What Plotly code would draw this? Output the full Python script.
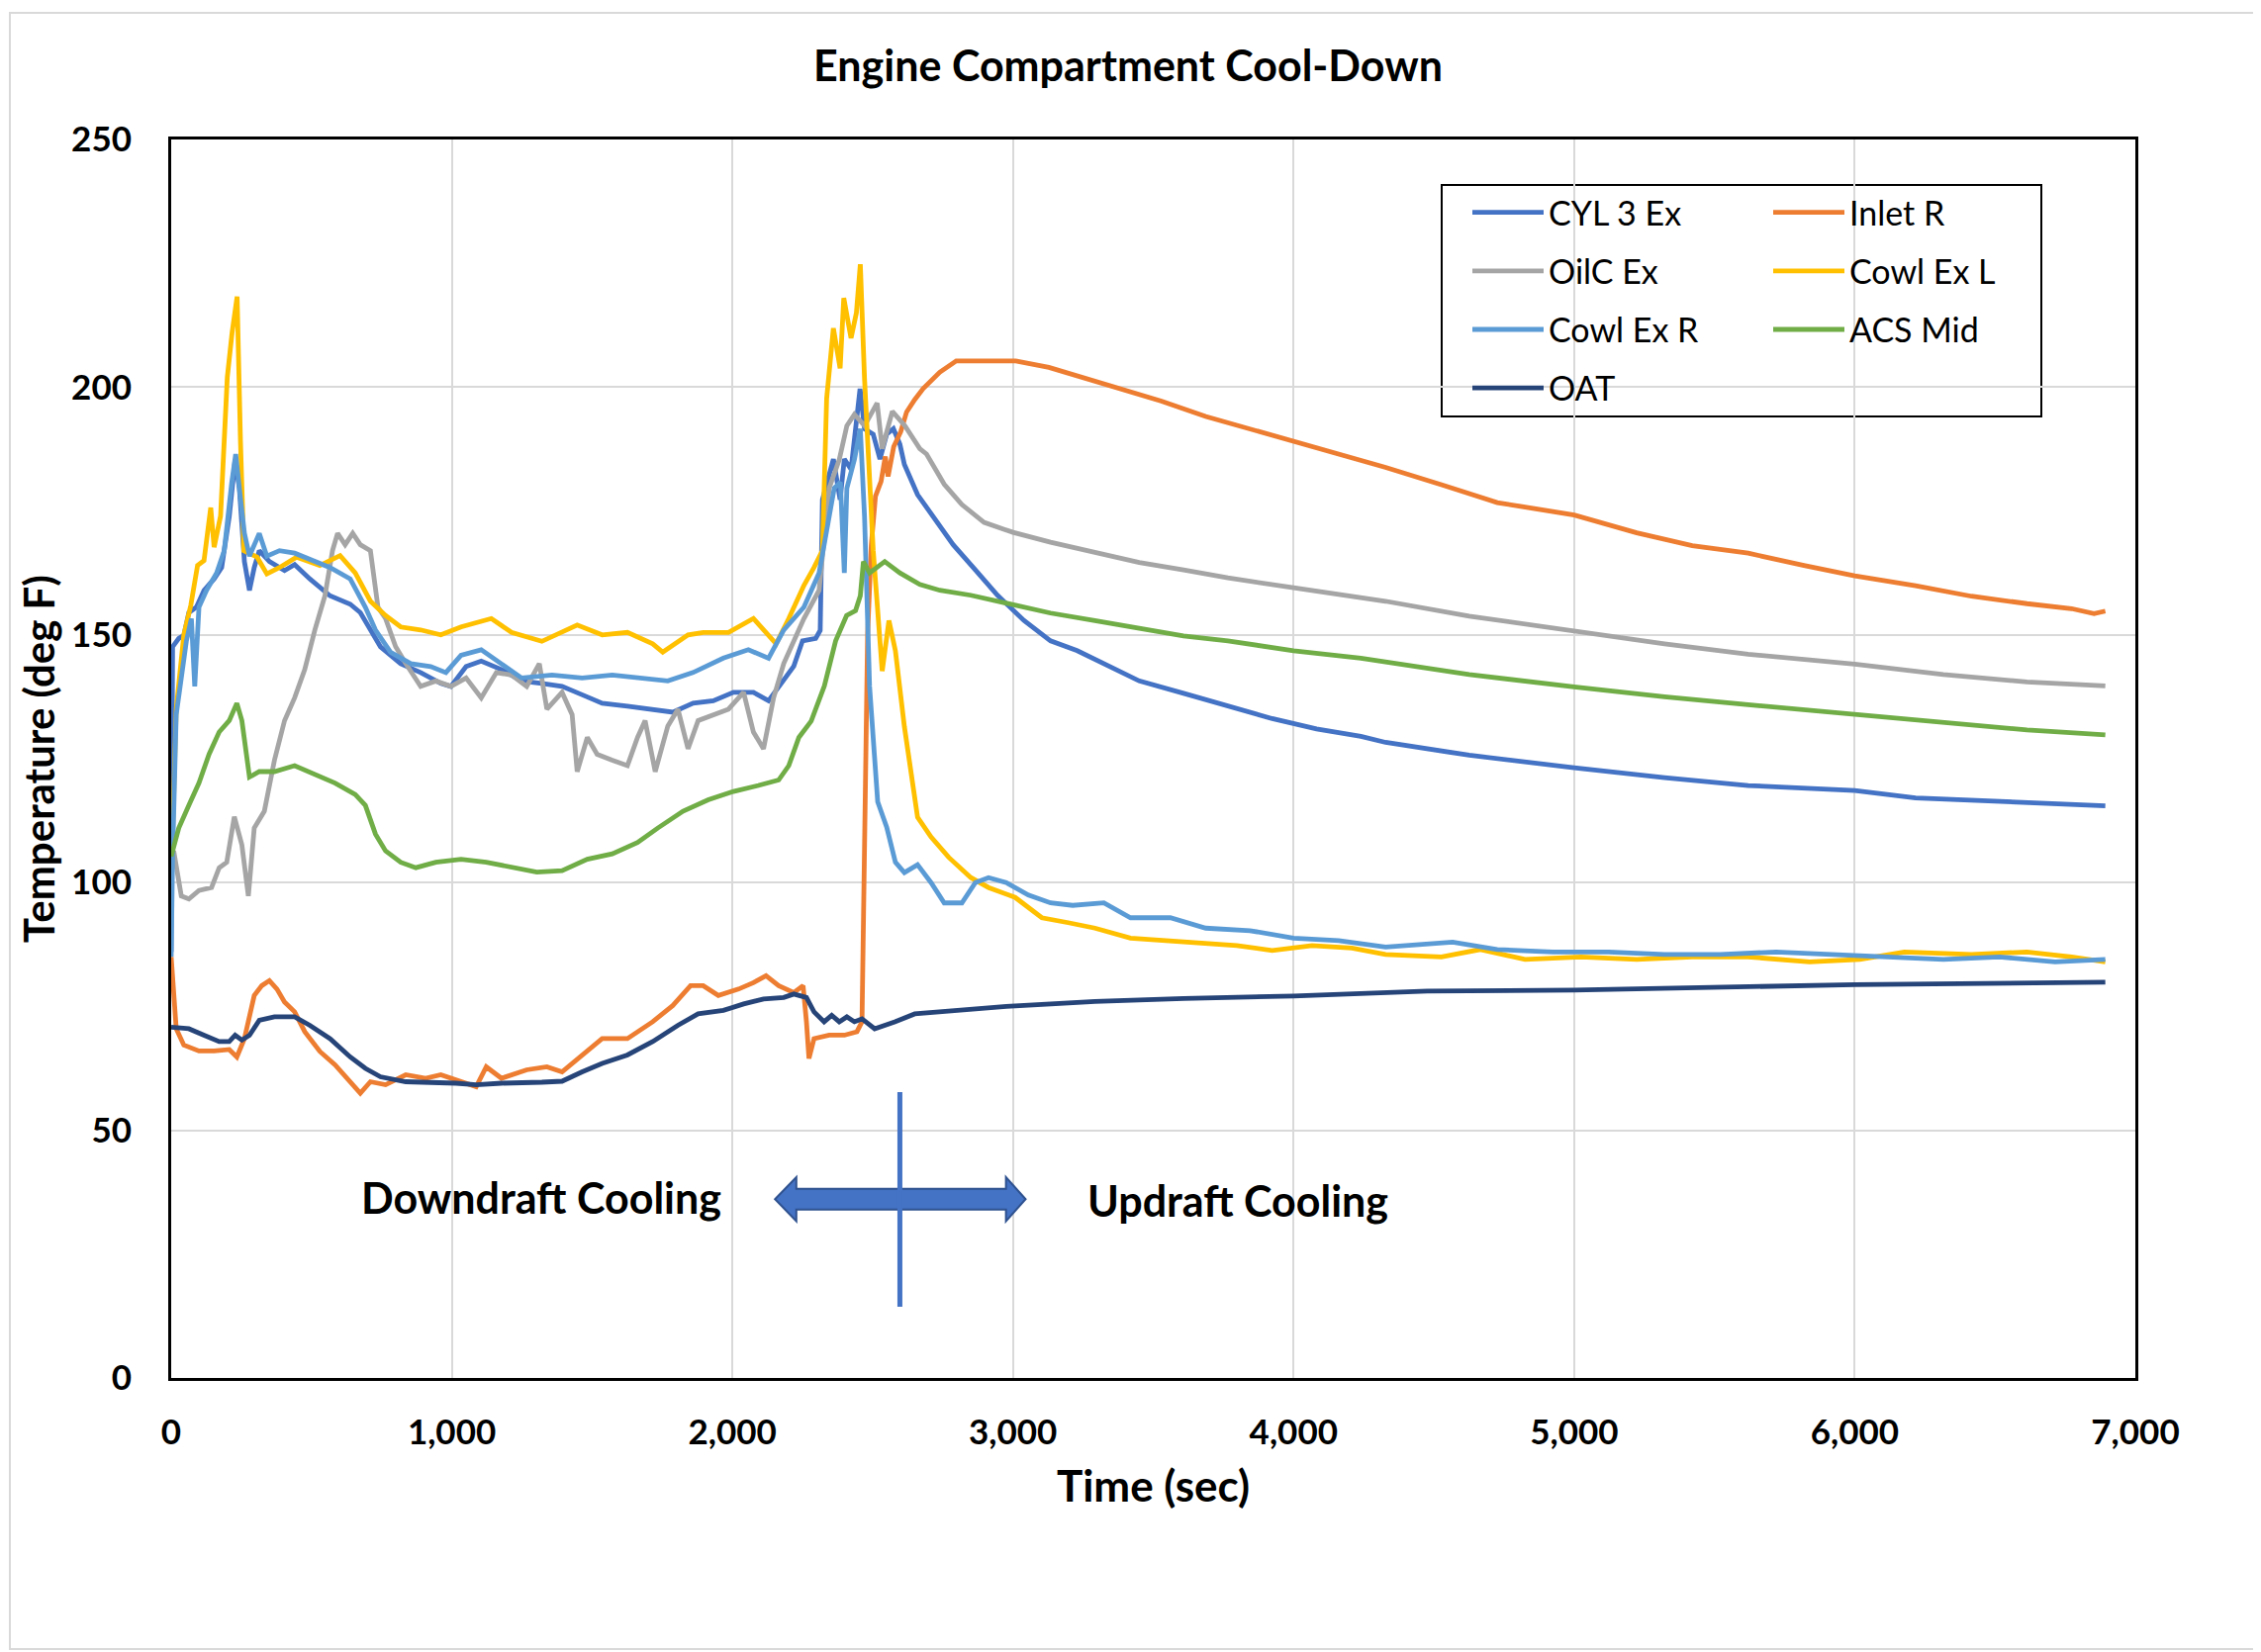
import plotly.graph_objects as go

# ---------------- data ----------------
cyl3_t = [0, 5, 27, 45, 63, 90, 117, 153, 180, 207, 228, 243, 261, 279, 296, 314, 350, 404, 440, 494, 566, 638, 674, 710, 746, 818, 889, 961, 997, 1051, 1105, 1177, 1249, 1321, 1393, 1465, 1536, 1626, 1716, 1788, 1860, 1932, 2004, 2075, 2129, 2165, 2219, 2250, 2297, 2313, 2321, 2360, 2384, 2399, 2423, 2455, 2471, 2502, 2526, 2550, 2574, 2597, 2613, 2660, 2724, 2787, 2866, 2945, 3039, 3134, 3229, 3340, 3450, 3608, 3766, 3924, 4082, 4240, 4328, 4626, 5000, 5322, 5620, 6000, 6217, 6416, 6614, 6893]
cyl3_v = [86, 147.6, 149.3, 149.9, 154.5, 155.6, 159, 161.3, 163.6, 173.9, 185.4, 179.6, 164.8, 159, 163.6, 167, 164.8, 163, 164.2, 161.3, 157.9, 156.2, 154.5, 151, 147.6, 144.2, 142.4, 140.2, 139.6, 143.6, 144.7, 143, 140.7, 140.2, 139.6, 137.9, 136.2, 135.6, 135, 134.4, 136.2, 136.7, 138.4, 138.4, 136.7, 139.6, 143.7, 148.8, 149.3, 150.9, 177.3, 185.5, 177.3, 185.5, 183.4, 199.7, 191.6, 190.5, 185.5, 190.5, 191.6, 188.5, 184.4, 178.3, 173.2, 168.2, 163.1, 158, 152.9, 148.8, 146.8, 143.7, 140.7, 138.2, 135.6, 133.1, 131, 129.5, 128.3, 125.7, 123.2, 121.2, 119.6, 118.6, 117.1, 116.6, 116.1, 115.5]

inlet_t = [0, 18, 45, 99, 153, 207, 234, 261, 296, 323, 350, 377, 404, 440, 476, 530, 584, 629, 674, 710, 764, 836, 907, 961, 1033, 1087, 1123, 1177, 1267, 1339, 1393, 1465, 1536, 1626, 1716, 1788, 1851, 1896, 1950, 2022, 2075, 2120, 2165, 2219, 2252, 2264, 2273, 2291, 2345, 2399, 2444, 2462, 2472, 2482, 2495, 2510, 2530, 2545, 2555, 2575, 2600, 2621, 2650, 2680, 2739, 2798, 2916, 3010, 3128, 3261, 3387, 3529, 3687, 3845, 4000, 4161, 4328, 4527, 4726, 5000, 5223, 5421, 5620, 5819, 6000, 6217, 6416, 6614, 6773, 6853, 6893]
inlet_v = [85, 70.5, 67.2, 66, 66, 66.3, 64.8, 68.5, 77.2, 79.2, 80.2, 78.5, 75.9, 73.9, 69.9, 65.9, 63.2, 60.5, 57.5, 59.8, 59.2, 61.2, 60.5, 61.2, 59.8, 58.8, 62.8, 60.5, 62.2, 62.8, 61.8, 65.2, 68.5, 68.5, 71.9, 75.2, 79.2, 79.2, 77.2, 78.5, 79.8, 81.2, 79.2, 77.8, 79.2, 71.9, 64.5, 68.5, 69.2, 69.2, 69.9, 71.9, 120, 150, 168, 178, 181, 186, 182, 188, 191, 195, 197.5, 199.7, 203, 205.3, 205.3, 205.3, 204, 201.7, 199.7, 197.2, 194.1, 191.6, 189, 186.5, 183.8, 180.3, 176.7, 174.2, 170.6, 168, 166.5, 164, 161.9, 159.9, 157.8, 156.3, 155.3, 154.3, 154.8]

oilc_t = [0, 9, 36, 63, 99, 144, 171, 198, 225, 252, 275, 296, 332, 368, 404, 440, 476, 512, 548, 575, 593, 620, 647, 674, 710, 737, 764, 800, 836, 889, 943, 997, 1051, 1105, 1159, 1213, 1267, 1312, 1339, 1393, 1429, 1447, 1483, 1518, 1572, 1626, 1662, 1689, 1725, 1770, 1806, 1842, 1878, 1932, 1986, 2040, 2075, 2111, 2147, 2183, 2219, 2255, 2309, 2345, 2381, 2408, 2435, 2471, 2516, 2534, 2570, 2615, 2668, 2692, 2755, 2818, 2897, 3000, 3134, 3292, 3450, 3608, 3766, 4000, 4240, 4328, 4626, 5000, 5322, 5620, 6000, 6316, 6614, 6893]
oilc_v = [105, 106.4, 97.3, 96.7, 98.4, 99, 103, 104.1, 113.3, 107.6, 97.3, 111, 114.4, 124.7, 132.7, 137.3, 143, 151, 157.9, 167, 170.5, 168.2, 170.5, 168.2, 167, 155.6, 153.3, 147.6, 144.2, 139.6, 140.7, 139.6, 141.3, 137.3, 142.4, 141.9, 139.6, 144.2, 135, 138.4, 133.9, 122.4, 129.3, 125.9, 124.7, 123.6, 129.3, 132.7, 122.4, 131.6, 135, 127, 132.7, 133.9, 135, 138.4, 130.4, 127, 137.3, 144.2, 148.7, 153.3, 159, 179.6, 185.4, 192.2, 194.5, 192.2, 196.8, 187.6, 195.1, 192.2, 187.6, 186.5, 180.4, 176.3, 172.7, 170.7, 168.7, 166.6, 164.6, 163.1, 161.5, 159.5, 157.5, 156.8, 153.8, 150.7, 148.2, 146.1, 144.1, 142, 140.5, 139.7]

cowl_l_t = [0, 18, 45, 70, 94, 117, 141, 153, 176, 200, 217, 235, 247, 259, 306, 341, 386, 447, 530, 602, 656, 710, 764, 818, 889, 961, 1033, 1141, 1213, 1321, 1447, 1536, 1626, 1716, 1752, 1842, 1896, 1986, 2075, 2111, 2156, 2201, 2255, 2291, 2321, 2336, 2360, 2384, 2397, 2423, 2442, 2456, 2471, 2502, 2534, 2558, 2581, 2613, 2660, 2708, 2771, 2850, 2913, 3008, 3103, 3197, 3292, 3419, 3545, 3671, 3798, 3924, 4066, 4208, 4328, 4527, 4666, 4825, 5024, 5223, 5421, 5620, 5839, 6018, 6177, 6416, 6614, 6773, 6893]
cowl_l_v = [100, 135, 150, 156, 164, 165, 175.7, 167.7, 174, 202, 211, 218.3, 189, 167, 165.7, 162.3, 163.6, 165.7, 164, 166, 162.5, 156.8, 153.9, 151.6, 151, 150, 151.6, 153.3, 150.5, 148.7, 152, 150, 150.5, 148.2, 146.5, 150, 150.5, 150.5, 153.3, 151, 148.2, 153.3, 160, 163.6, 167, 197.7, 211.9, 203.8, 218, 209.9, 215, 224.8, 201.7, 167, 142.7, 152.9, 146.8, 131.5, 113.2, 109.2, 105.1, 101, 99, 97, 92.9, 91.9, 90.8, 88.8, 88.3, 87.8, 87.3, 86.3, 87.3, 86.8, 85.5, 85, 86.5, 84.5, 85, 84.5, 85, 85, 84, 84.5, 86, 85.5, 86, 85, 84]

cowl_r_t = [0, 5, 18, 36, 54, 72, 84, 99, 126, 162, 189, 216, 230, 243, 261, 279, 296, 314, 341, 386, 440, 494, 566, 638, 692, 728, 782, 854, 925, 979, 1033, 1105, 1177, 1249, 1357, 1465, 1572, 1680, 1770, 1860, 1968, 2057, 2129, 2183, 2255, 2309, 2336, 2363, 2385, 2399, 2408, 2435, 2456, 2471, 2489, 2518, 2550, 2581, 2613, 2660, 2708, 2755, 2818, 2866, 2913, 2976, 3055, 3134, 3213, 3324, 3419, 3561, 3687, 3845, 4000, 4161, 4328, 4567, 4726, 4924, 5123, 5322, 5521, 5720, 5918, 6117, 6316, 6515, 6714, 6893]
cowl_r_v = [85, 105.3, 133.9, 141.9, 148.7, 153.3, 139.6, 155.6, 159, 162.5, 167, 180.8, 186.5, 179.6, 170.5, 165.9, 168.2, 170.5, 165.9, 167, 166.5, 165.3, 163.6, 161.3, 155.6, 151, 146.5, 144.2, 143.6, 142.4, 145.9, 147, 144.2, 141.3, 141.9, 141.3, 141.9, 141.3, 140.7, 142.4, 145.3, 147, 145.3, 151, 155.6, 162.5, 171.6, 179.6, 180.8, 162.5, 179.6, 185.4, 191.6, 173.9, 139.6, 116.3, 111.2, 104.1, 102, 103.6, 100, 95.9, 95.9, 100, 101, 100, 97.5, 95.9, 95.4, 95.9, 92.9, 92.9, 90.8, 90.3, 88.8, 88.3, 87, 88, 86.5, 86, 86, 85.5, 85.5, 86, 85.5, 85, 84.5, 85, 84, 84.5]

acs_t = [0, 27, 63, 99, 135, 171, 207, 234, 252, 279, 314, 368, 440, 512, 584, 656, 692, 728, 764, 818, 872, 943, 1033, 1123, 1213, 1303, 1393, 1483, 1572, 1662, 1734, 1824, 1914, 2004, 2093, 2165, 2201, 2237, 2281, 2328, 2368, 2407, 2439, 2456, 2467, 2489, 2543, 2597, 2668, 2739, 2850, 2976, 3134, 3292, 3450, 3608, 3766, 4000, 4240, 4328, 4626, 5000, 5322, 5620, 6000, 6316, 6614, 6893]
acs_v = [105.3, 111, 115.6, 120.1, 125.9, 130.4, 132.7, 136.2, 132.7, 121.3, 122.4, 122.4, 123.6, 121.9, 120.1, 117.8, 115.6, 109.8, 106.4, 104.1, 103, 104.1, 104.7, 104.1, 103, 102.1, 102.4, 104.7, 105.8, 108.1, 111, 114.4, 116.7, 118.4, 119.6, 120.7, 123.6, 129.3, 132.6, 139.7, 148.8, 153.9, 154.9, 157.9, 164.8, 162.5, 164.8, 162.5, 160.2, 159, 158, 156.5, 154.4, 152.9, 151.4, 149.8, 148.8, 146.8, 145.3, 144.6, 142, 139.5, 137.5, 135.9, 133.9, 132.4, 130.8, 129.8]

oat_t = [0, 63, 117, 171, 207, 228, 252, 279, 314, 368, 440, 494, 566, 638, 692, 746, 836, 925, 1015, 1087, 1177, 1321, 1393, 1465, 1536, 1626, 1716, 1806, 1878, 1968, 2040, 2111, 2183, 2219, 2264, 2291, 2327, 2354, 2381, 2408, 2435, 2462, 2507, 2579, 2650, 2737, 2976, 3292, 3608, 4000, 4477, 5000, 6000, 6893]
oat_v = [70.8, 70.5, 69.2, 67.9, 67.9, 69.2, 68.2, 69.2, 72.2, 72.9, 72.9, 71.2, 68.5, 64.8, 62.5, 60.8, 59.8, 59.7, 59.5, 59.2, 59.5, 59.7, 59.9, 61.8, 63.5, 65.2, 67.9, 71.2, 73.5, 74.2, 75.5, 76.5, 76.8, 77.5, 76.8, 73.9, 71.9, 73.2, 71.9, 72.9, 71.9, 72.5, 70.5, 71.9, 73.5, 73.9, 75, 76, 76.6, 77.1, 78.1, 78.3, 79.4, 79.9]

series_names = ["CYL 3 Ex", "Inlet R", "OilC Ex", "Cowl Ex L", "Cowl Ex R", "ACS Mid", "OAT"]
x_ticks = [0, 1000, 2000, 3000, 4000, 5000, 6000, 7000]
y_ticks = [0, 50, 100, 150, 200, 250]

# annotation positions (data units)
split_time = 2597
arrow_left_tip, arrow_left_head, arrow_right_head, arrow_right_tip = 2152, 2228, 2975, 3045
arrow_mid, shaft_half, head_half = 36.1, 2.1, 4.45
split_line_y = (14.4, 57.7)

# ---------------- styling ----------------
FONT = "Lato"
colors = ["#4472C4", "#ED7D31", "#A5A5A5", "#FFC000", "#5B9BD5", "#70AD47", "#264478"]
legend_ids = ["legend", "legend2", "legend", "legend2", "legend", "legend2", "legend"]
data = [(cyl3_t, cyl3_v), (inlet_t, inlet_v), (oilc_t, oilc_v), (cowl_l_t, cowl_l_v),
        (cowl_r_t, cowl_r_v), (acs_t, acs_v), (oat_t, oat_v)]

fig = go.Figure()
for i, (name, (tx, vy)) in enumerate(zip(series_names, data)):
    fig.add_trace(go.Scatter(x=tx, y=vy, mode="lines", name=name,
                             line=dict(color=colors[i], width=4.8),
                             legend=legend_ids[i], legendgroup=name))

OFF = 8                      # page body margin of the html page
W, H = 2285 - OFF, 1670 - OFF
L, R, T, B = 173, 2158, 141, 1393   # plot area in page pixels
pw, ph = R - L, B - T
def px(X):
    return (X - L) / pw
def py(Y):
    return 1 - (Y - T) / ph

fig.update_layout(
    width=W, height=H,
    margin=dict(l=L - OFF, r=W - (R - OFF), t=T - OFF, b=H - (B - OFF)),
    plot_bgcolor="white", paper_bgcolor="white",
    font=dict(family=FONT, color="black"),
    title=dict(text="Engine Compartment Cool-Down", x=(1140 - OFF) / W, xref="container",
               xanchor="center", y=1 - (67 - OFF) / H, yref="container", yanchor="middle",
               font=dict(size=43, weight="bold", family=FONT, color="black")),
    xaxis=dict(range=[0, 7000], tickvals=x_ticks, tickformat=",", showgrid=True,
               gridcolor="#D9D9D9", gridwidth=2, showline=True, linecolor="black",
               linewidth=3, mirror=True, zeroline=False, ticks="",
               ticklabelstandoff=22,
               tickfont=dict(size=35, weight="bold", family=FONT, color="black"),
               title=dict(text="Time (sec)", standoff=22,
                          font=dict(size=44, weight="bold", family=FONT, color="black"))),
    yaxis=dict(range=[0, 250], tickvals=y_ticks, showgrid=True,
               gridcolor="#D9D9D9", gridwidth=2, showline=True, linecolor="black",
               linewidth=3, mirror=True, zeroline=False, ticks="",
               ticklabelstandoff=30,
               tickfont=dict(size=35, weight="bold", family=FONT, color="black"),
               title=dict(text="Temperature (deg F)", standoff=4,
                          font=dict(size=42, weight="bold", family=FONT, color="black"))),
    legend=dict(x=px(1483), y=py(186), xanchor="left", yanchor="top",
                bgcolor="rgba(0,0,0,0)", borderwidth=0, tracegroupgap=12,
                itemwidth=72, font=dict(size=34, family=FONT, color="black")),
    legend2=dict(x=px(1787), y=py(186), xanchor="left", yanchor="top",
                 bgcolor="rgba(0,0,0,0)", borderwidth=0, tracegroupgap=12,
                 itemwidth=72, font=dict(size=34, family=FONT, color="black")),
    showlegend=True,
)

shapes = []
# legend box
shapes.append(dict(type="rect", xref="paper", yref="paper", x0=px(1457), x1=px(2063),
                   y0=py(421), y1=py(187), fillcolor="white", layer="between",
                   line=dict(color="black", width=2)))
# outer chart border
shapes.append(dict(type="rect", xref="paper", yref="paper", x0=px(10), x1=px(2279),
                   y0=py(1667), y1=py(13), line=dict(color="#D9D9D9", width=2)))
# block arrows
left_arrow = (f"M{arrow_left_tip},{arrow_mid} L{arrow_left_head},{arrow_mid + head_half} "
              f"L{arrow_left_head},{arrow_mid + shaft_half} L{split_time},{arrow_mid + shaft_half} "
              f"L{split_time},{arrow_mid - shaft_half} L{arrow_left_head},{arrow_mid - shaft_half} "
              f"L{arrow_left_head},{arrow_mid - head_half} Z")
right_arrow = (f"M{arrow_right_tip},{arrow_mid} L{arrow_right_head},{arrow_mid + head_half} "
               f"L{arrow_right_head},{arrow_mid + shaft_half} L{split_time},{arrow_mid + shaft_half} "
               f"L{split_time},{arrow_mid - shaft_half} L{arrow_right_head},{arrow_mid - shaft_half} "
               f"L{arrow_right_head},{arrow_mid - head_half} Z")
for p in (left_arrow, right_arrow):
    shapes.append(dict(type="path", xref="x", yref="y", path=p, fillcolor="#4472C4",
                       line=dict(color="#2F528F", width=2)))
shapes.append(dict(type="line", xref="x", yref="y", x0=split_time, x1=split_time,
                   y0=split_line_y[0], y1=split_line_y[1], line=dict(color="#4472C4", width=5)))
fig.update_layout(shapes=shapes)

fig.add_annotation(x=1320, y=36.5, xref="x", yref="y", text="Downdraft Cooling", showarrow=False,
                   font=dict(size=43, weight="bold", family=FONT, color="black"))
fig.add_annotation(x=3800, y=35.8, xref="x", yref="y", text="Updraft Cooling", showarrow=False,
                   font=dict(size=43, weight="bold", family=FONT, color="black"))

fig.write_html("out.html")
